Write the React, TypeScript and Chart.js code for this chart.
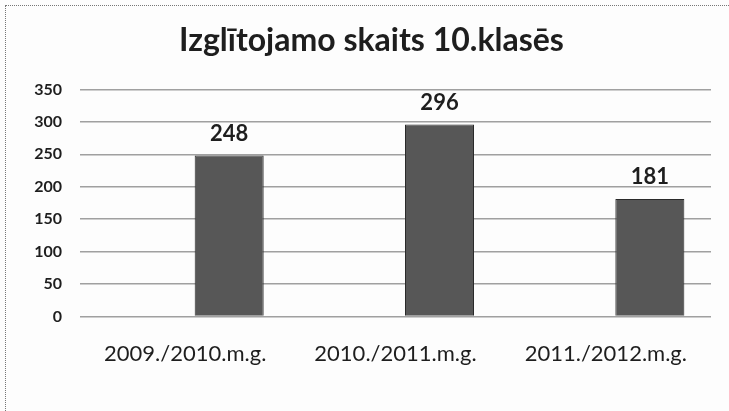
import React, { useEffect, useRef } from "react";
import { Chart, registerables } from "chart.js";

Chart.register(...registerables);

const categories = ["2009./2010.m.g.", "2010./2011.m.g.", "2011./2012.m.g."];
const emptySeries: (number | null)[] = [null, null, null];
const students = [248, 296, 181];
const titleText = "Izglītojamo skaits 10.klasēs";
const yMin = 0;
const yMax = 350;
const yStep = 50;

const FONT = "Lato, 'Open Sans', sans-serif";

const valueLabels = {
  id: "valueLabels",
  afterDatasetsDraw(chart: any) {
    const ctx = chart.ctx;
    const meta = chart.getDatasetMeta(1);
    ctx.save();
    ctx.font = `bold 22px ${FONT}`;
    ctx.fillStyle = "#1e1e1e";
    ctx.textAlign = "center";
    ctx.textBaseline = "middle";
    meta.data.forEach((el: any, i: number) => {
      const v = chart.data.datasets[1].data[i];
      if (v == null) return;
      ctx.fillText(String(v), el.x, el.y - 22);
    });
    ctx.restore();
  },
};

export default function App() {
  const ref = useRef<HTMLCanvasElement>(null);
  useEffect(() => {
    if (!ref.current) return;
    const chart = new Chart(ref.current, {
      type: "bar",
      data: {
        labels: categories,
        datasets: [
          {
            label: "",
            data: emptySeries,
            backgroundColor: "#575757",
          },
          {
            label: "Izglītojamo skaits",
            data: students,
            backgroundColor: "#575757",
            borderColor: "#2a2a2a",
            borderWidth: 1,
          },
        ],
      },
      options: {
        responsive: false,
        animation: false,
        devicePixelRatio: 1,
        datasets: { bar: { categoryPercentage: 0.837, barPercentage: 0.784 } },
        layout: { padding: { left: 32, right: 18, top: 0, bottom: 20 } },
        plugins: {
          legend: { display: false },
          tooltip: { enabled: false },
          title: {
            display: true,
            text: titleText,
            color: "#1e1e1e",
            font: { family: FONT, size: 32, weight: "bold" },
            padding: { top: 21, bottom: 30 },
          },
        },
        scales: {
          x: {
            grid: { display: false, drawTicks: false },
            border: { display: false },
            ticks: {
              color: "#1e1e1e",
              font: { family: FONT, size: 22 },
              padding: 24,
              maxRotation: 0,
            },
          },
          y: {
            min: yMin,
            max: yMax,
            grid: { color: "#a0a0a0", lineWidth: 1.6, drawTicks: false },
            border: { display: false },
            ticks: {
              stepSize: yStep,
              color: "#1e1e1e",
              font: { family: FONT, size: 16, weight: "bold" },
              padding: 18,
            },
            afterFit(scale: any) {
              scale.width = 48;
            },
          },
        },
      },
      plugins: [valueLabels],
    });
    return () => chart.destroy();
  }, []);

  return (
    <div style={{ position: "absolute", left: 0, top: 0, width: 729, height: 411, background: "#fdfdfd", overflow: "hidden" }}>
      <div
        style={{
          position: "absolute",
          left: 5,
          top: 5,
          width: 724,
          height: 406,
          borderLeft: "1px dotted #777",
          borderTop: "1px dotted #777",
          boxSizing: "border-box",
        }}
      />
      <canvas ref={ref} width={729} height={411} style={{ position: "absolute", left: 0, top: 0, display: "block" }} />
    </div>
  );
}
